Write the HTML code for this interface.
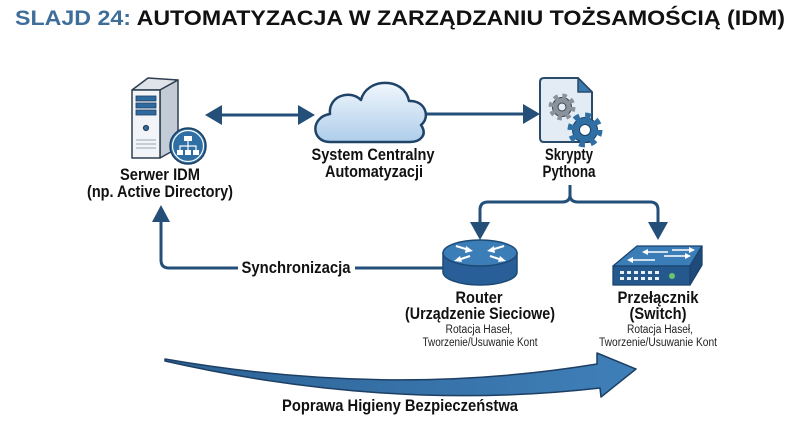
<!DOCTYPE html>
<html><head><meta charset="utf-8"><style>
html,body{margin:0;padding:0;background:#fff;}
svg{display:block;}
text{font-family:"Liberation Sans",Arial,sans-serif;}
.b{font-weight:bold;fill:#111;font-size:17px;}
.s{fill:#222;font-size:11.5px;}
</style></head><body>
<svg width="800" height="436" viewBox="0 0 800 436" xmlns="http://www.w3.org/2000/svg">
<defs>
<linearGradient id="cg" x1="0" y1="0" x2="0" y2="1">
<stop offset="0" stop-color="#f1f7fd"/><stop offset="1" stop-color="#aecdea"/>
</linearGradient>
<linearGradient id="bg" x1="0" y1="0" x2="1" y2="0">
<stop offset="0" stop-color="#2d6396"/><stop offset="1" stop-color="#3f7fb8"/>
</linearGradient>
</defs>
<rect width="800" height="436" fill="#fff"/>

<!-- Title -->
<text x="15" y="25" font-size="21" font-weight="bold" textLength="770" lengthAdjust="spacingAndGlyphs"><tspan fill="#3f6e9a">SLAJD 24:</tspan><tspan fill="#111"> AUTOMATYZACJA W ZARZĄDZANIU TOŻSAMOŚCIĄ (IDM)</tspan></text>

<!-- Connectors -->
<g stroke="#244f79" stroke-width="3" fill="none">
<line x1="220" y1="115" x2="300" y2="115"/>
<line x1="424" y1="114" x2="525" y2="114"/>
<path d="M570,185 V195 Q570,202 562,202 H488 Q480,202 480,210 V224"/>
<path d="M570,195 Q570,202 578,202 H650 Q658,202 658,210 V224"/>
<path d="M443,268 H355"/>
<path d="M238,268 H169 Q161,268 161,260 V220"/>
</g>
<g fill="#244f79">
<polygon points="205,115 222,105 222,125"/>
<polygon points="315,115 298,105 298,125"/>
<polygon points="540,114 523,104 523,124"/>
<polygon points="470,222 490,222 480,240"/>
<polygon points="648,222 668,222 658,240"/>
<polygon points="161,205 152,222 170,222"/>
</g>

<!-- Server -->
<g stroke="#2d3e50" stroke-width="1.5" stroke-linejoin="round">
<polygon points="132,90 148,78 178,80 160,90" fill="#dfe4ea"/>
<polygon points="160,90 178,80 178,148 160,158" fill="#c3ccd6"/>
<rect x="132" y="90" width="28" height="68" fill="#f2f4f7"/>
</g>
<g fill="#2f6a9f" stroke="#1d3f63" stroke-width="0.8">
<rect x="136" y="96" width="20" height="5"/>
<rect x="136" y="103" width="20" height="5"/>
<rect x="136" y="110" width="20" height="5"/>
</g>
<circle cx="146" cy="128" r="2.6" fill="#2f6a9f" stroke="#2d3e50" stroke-width="1"/>
<g stroke="#9aa5b1" stroke-width="1">
<line x1="136" y1="140" x2="156" y2="140"/><line x1="136" y1="144" x2="156" y2="144"/><line x1="136" y1="148" x2="156" y2="148"/>
</g>
<circle cx="188" cy="146" r="18" fill="#2f6fa3" stroke="#1d3f63" stroke-width="1.5"/>
<circle cx="188" cy="146" r="15.5" fill="none" stroke="#fff" stroke-width="1.2"/>
<g fill="#fff"><rect x="184" y="136" width="8" height="5"/><rect x="177" y="150" width="6" height="5"/><rect x="185" y="150" width="6" height="5"/><rect x="193" y="150" width="6" height="5"/></g>
<g stroke="#fff" stroke-width="1.2" fill="none"><path d="M188,141 V146 M180,150 V146 H196 V150 M188,146 V150"/></g>

<!-- Cloud -->
<path d="M330,142 C311,142 310,117 330,114 C328,96 350,89 361,100 C366,78 404,76 409,101 C425,100 431,117 421,125 C428,135 420,142 410,142 Z" fill="url(#cg)" stroke="#1f4468" stroke-width="2.5" stroke-linejoin="round"/>

<!-- Script doc -->
<path d="M540,82 Q540,78 544,78 H578 L592,92 V138 Q592,142 588,142 H544 Q540,142 540,138 Z" fill="#e3ecf5" stroke="#2a4a6a" stroke-width="2"/>
<path d="M578,78 V92 H592 Z" fill="#3a78b0" stroke="#2a4a6a" stroke-width="1.5" stroke-linejoin="round"/>
<circle cx="562" cy="107" r="9.5" fill="#8a939c" stroke="#3a4550" stroke-width="1"/>
<circle cx="562" cy="107" r="11" fill="none" stroke="#8a939c" stroke-width="5" stroke-dasharray="4.3 4.34"/>
<circle cx="562" cy="107" r="4" fill="#e3ecf5" stroke="#3a4550" stroke-width="1"/>
<circle cx="585" cy="130" r="12.5" fill="#2f6fa3" stroke="#1d3f63" stroke-width="1"/>
<circle cx="585" cy="130" r="14.5" fill="none" stroke="#2f6fa3" stroke-width="6" stroke-dasharray="5.7 5.69"/>
<circle cx="585" cy="130" r="5.5" fill="#fff" stroke="#1d3f63" stroke-width="1"/>

<!-- Router -->
<path d="M443,253 V272 A37,13 0 0 0 517,272 V253 Z" fill="#285f98" stroke="#1d4a75" stroke-width="1.5"/>
<ellipse cx="480" cy="253" rx="37" ry="13" fill="#3b7db6" stroke="#1d4a75" stroke-width="1.5"/>
<g stroke="#fff" stroke-width="2.2" fill="#fff">
<line x1="456" y1="246" x2="469" y2="250"/><polygon points="473,251 466,246 465,253" stroke="none"/>
<line x1="504" y1="246" x2="491" y2="250"/><polygon points="487,251 494,246 495,253" stroke="none"/>
<line x1="470" y1="256" x2="458" y2="260"/><polygon points="454,261 460,256 462,262" stroke="none"/>
<line x1="490" y1="256" x2="502" y2="260"/><polygon points="506,261 500,256 498,262" stroke="none"/>
</g>

<!-- Switch -->
<g stroke="#1a4470" stroke-width="1.3" stroke-linejoin="round">
<polygon points="637,246 702,246 690,266 613,266" fill="#3b7db6"/>
<polygon points="613,266 690,266 690,285 613,285" fill="#25598d"/>
<polygon points="690,266 702,246 702,265 690,285" fill="#1e4b7a"/>
</g>
<g stroke="#fff" stroke-width="1.5" fill="#fff">
<line x1="645" y1="252" x2="668" y2="252"/><polygon points="642,252 648,249 648,255" stroke="none"/>
<line x1="664" y1="256" x2="688" y2="256"/><polygon points="691,256 685,253 685,259" stroke="none"/>
<line x1="630" y1="260" x2="655" y2="260"/><polygon points="627,260 633,257 633,263" stroke="none"/>
<line x1="672" y1="250" x2="692" y2="250"/><polygon points="695,250 689,247 689,253" stroke="none"/>
</g>
<g fill="#e8f0f8">
<rect x="620" y="271" width="4" height="3"/><rect x="627" y="271" width="4" height="3"/><rect x="634" y="271" width="4" height="3"/><rect x="641" y="271" width="4" height="3"/><rect x="648" y="271" width="4" height="3"/><rect x="655" y="271" width="4" height="3"/>
<rect x="620" y="277" width="4" height="3"/><rect x="627" y="277" width="4" height="3"/><rect x="634" y="277" width="4" height="3"/><rect x="641" y="277" width="4" height="3"/><rect x="648" y="277" width="4" height="3"/><rect x="655" y="277" width="4" height="3"/>
</g>
<circle cx="672" cy="276" r="3" fill="#6cc36c"/>

<!-- Big arrow -->
<path d="M165,359 Q390,398 597,364 L597,353 L636,369 L601,397 L600,388 Q390,412 165,361 Z" fill="url(#bg)" stroke="#1d3f63" stroke-width="1.5" stroke-linejoin="round"/>

<!-- Labels -->
<text class="b" x="160" y="180" text-anchor="middle" textLength="80" lengthAdjust="spacingAndGlyphs">Serwer IDM</text>
<text class="b" x="160" y="197" text-anchor="middle" textLength="146" lengthAdjust="spacingAndGlyphs">(np. Active Directory)</text>
<text class="b" x="373" y="160" text-anchor="middle" textLength="123" lengthAdjust="spacingAndGlyphs">System Centralny</text>
<text class="b" x="374" y="177" text-anchor="middle" textLength="98" lengthAdjust="spacingAndGlyphs">Automatyzacji</text>
<text class="b" x="569" y="160" text-anchor="middle" textLength="48" lengthAdjust="spacingAndGlyphs">Skrypty</text>
<text class="b" x="569" y="177" text-anchor="middle" textLength="53" lengthAdjust="spacingAndGlyphs">Pythona</text>
<text class="b" x="296" y="273" text-anchor="middle" textLength="109" lengthAdjust="spacingAndGlyphs">Synchronizacja</text>

<text class="b" x="479" y="303" text-anchor="middle" textLength="47" lengthAdjust="spacingAndGlyphs">Router</text>
<text class="b" x="480" y="319" text-anchor="middle" textLength="150" lengthAdjust="spacingAndGlyphs">(Urządzenie Sieciowe)</text>
<text class="s" x="479" y="333" text-anchor="middle" textLength="67" lengthAdjust="spacingAndGlyphs">Rotacja Haseł,</text>
<text class="s" x="480" y="346" text-anchor="middle" textLength="115" lengthAdjust="spacingAndGlyphs">Tworzenie/Usuwanie Kont</text>

<text class="b" x="658" y="303" text-anchor="middle" textLength="81" lengthAdjust="spacingAndGlyphs">Przełącznik</text>
<text class="b" x="658" y="319" text-anchor="middle" textLength="57" lengthAdjust="spacingAndGlyphs">(Switch)</text>
<text class="s" x="660" y="333" text-anchor="middle" textLength="66" lengthAdjust="spacingAndGlyphs">Rotacja Haseł,</text>
<text class="s" x="658" y="346" text-anchor="middle" textLength="118" lengthAdjust="spacingAndGlyphs">Tworzenie/Usuwanie Kont</text>

<text class="b" x="400" y="411" text-anchor="middle" textLength="236" lengthAdjust="spacingAndGlyphs">Poprawa Higieny Bezpieczeństwa</text>
</svg>
</body></html>
